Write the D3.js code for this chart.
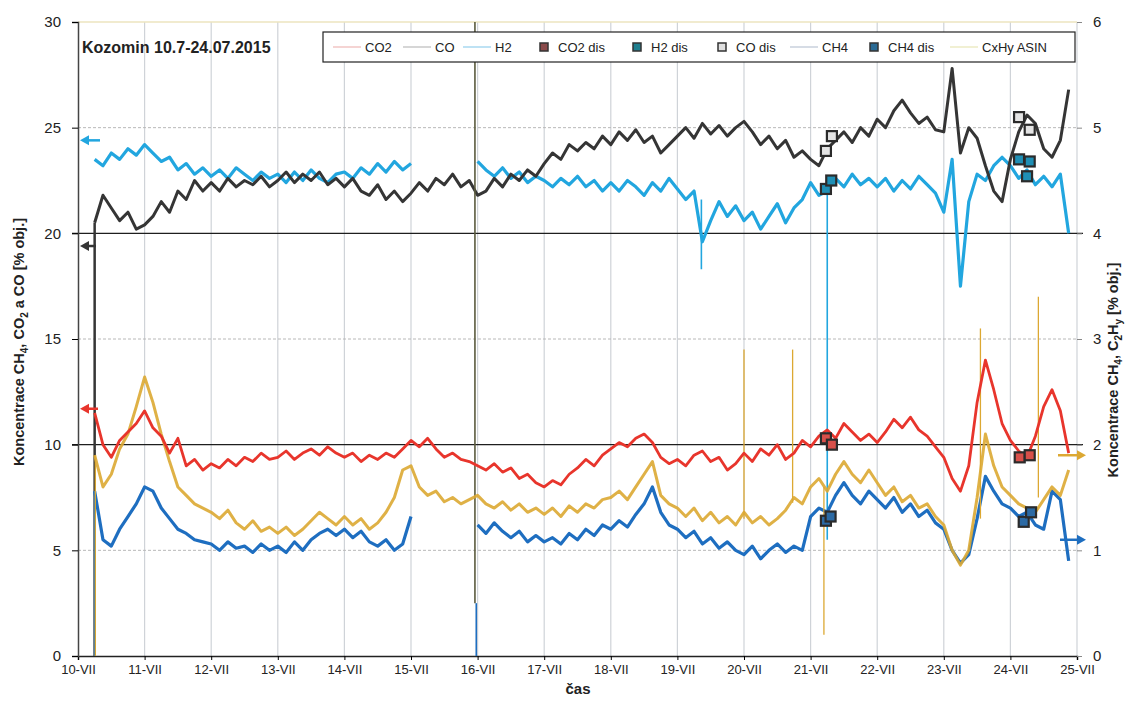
<!DOCTYPE html>
<html><head><meta charset="utf-8">
<script src="https://cdn.jsdelivr.net/npm/d3@7"></script>
<style>body{margin:0;background:#fff} svg{display:block}</style>
</head><body><svg id="c" width="1128" height="704"></svg>
<script>
// ---------- DATA ----------
const dayLabels = ["10-VII","11-VII","12-VII","13-VII","14-VII","15-VII","16-VII","17-VII","18-VII","19-VII","20-VII","21-VII","22-VII","23-VII","24-VII","25-VII"];
const leftTicks = [0,5,10,15,20,25,30];
const rightTicks = [0,1,2,3,4,5,6];
// sampling grid: days after 10-VII 00:00, every 3 hours from 10-VII 06:00
const sampleStart = 0.25, sampleStep = 0.125;

// CO2 [% obj.] left axis
const co2 = [11.5,10.0,9.4,10.2,10.6,11.0,
 11.6,10.8,10.4,9.6,10.3,9.0,9.3,8.8,
 9.1,8.9,9.3,9.0,9.4,9.2,9.6,9.3,
 9.4,9.7,9.3,9.6,9.8,9.5,9.9,9.6,
 9.4,9.6,9.2,9.5,9.3,9.6,9.4,9.8,
 10.2,9.9,10.3,9.8,9.4,9.6,9.3,9.2,
 9.0,8.8,9.1,8.7,8.9,8.4,8.6,8.2,
 8.0,8.3,8.1,8.6,8.9,9.3,9.0,9.5,
 9.8,10.1,9.9,10.3,10.5,10.1,9.4,9.1,
 9.3,9.0,9.5,9.7,9.2,9.4,8.8,9.1,
 9.6,9.2,9.8,9.5,10.0,9.3,9.6,10.2,
 9.9,10.4,10.7,10.3,11.0,10.6,10.2,10.5,
 10.1,10.6,11.2,10.8,11.3,10.7,10.4,9.9,
 9.4,8.4,7.8,9.0,12.0,14.0,12.6,11.0,
 10.2,9.7,9.4,10.4,11.8,12.6,11.6,9.6];
// CO [% obj.] left axis
const co = [20.5,21.8,21.2,20.6,21.0,20.2,
 20.4,20.8,21.5,21.0,22.0,21.6,22.5,22.0,
 22.4,22.0,22.6,22.2,22.5,22.3,22.7,22.2,
 22.5,22.9,22.4,22.8,22.5,22.9,22.3,22.6,
 22.2,22.6,22.0,21.8,22.3,21.6,22.0,21.5,
 21.9,22.4,22.0,22.6,22.3,22.8,22.2,22.5,
 21.8,22.0,22.6,22.2,22.8,22.5,23.0,22.7,
 23.3,23.8,23.5,24.2,23.9,24.3,24.0,24.6,
 24.2,24.8,24.4,24.9,24.3,24.6,23.8,24.2,
 24.6,25.0,24.5,25.2,24.7,25.1,24.6,25.0,
 25.3,24.8,24.2,24.6,24.0,24.4,23.6,23.9,
 23.5,23.2,24.0,24.4,24.8,24.3,25.0,24.6,
 25.4,25.0,25.8,26.3,25.7,25.2,25.5,24.9,
 24.8,27.8,23.8,25.0,24.5,23.2,22.0,21.5,
 23.5,24.8,25.6,25.2,24.0,23.6,24.4,26.8];
// H2 [% obj.] left axis
const h2 = [23.5,23.2,23.8,23.5,24.0,23.7,
 24.2,23.8,23.4,23.6,23.0,23.3,22.8,23.1,
 22.7,23.0,22.6,23.1,22.8,22.5,22.9,22.6,
 22.8,22.4,22.9,22.5,23.0,22.6,22.4,22.8,
 22.9,22.6,23.1,22.8,23.3,22.9,23.4,23.0,
 23.3,null,null,null,null,null,null,null,
 23.4,23.0,22.7,23.1,22.6,22.9,22.4,22.7,
 22.5,22.2,22.6,22.3,22.7,22.2,22.5,22.0,
 22.4,22.0,22.5,22.2,21.8,22.4,22.0,22.6,
 22.1,21.6,22.0,19.6,20.6,21.5,20.8,21.3,
 20.6,21.0,20.2,20.8,21.4,20.5,21.2,21.6,
 22.4,21.8,22.0,22.6,22.2,22.8,22.3,22.6,
 22.2,22.6,22.0,22.5,22.1,22.7,22.3,21.9,
 21.0,23.5,17.5,21.5,22.8,22.5,23.2,23.6,
 23.2,22.6,23.0,22.3,22.7,22.2,22.8,20.0];
// CH4 [% obj.] right axis
const ch4 = [1.56,1.10,1.04,1.20,1.32,1.44,
 1.60,1.56,1.40,1.30,1.20,1.16,1.10,1.08,
 1.06,1.00,1.08,1.02,1.04,0.98,1.06,1.00,
 1.04,0.98,1.08,1.00,1.10,1.16,1.20,1.14,
 1.20,1.12,1.18,1.08,1.04,1.10,1.00,1.06,
 1.32,null,null,null,null,null,null,null,
 1.24,1.16,1.26,1.18,1.12,1.18,1.08,1.14,
 1.08,1.12,1.06,1.16,1.10,1.20,1.14,1.24,
 1.20,1.28,1.22,1.34,1.44,1.60,1.36,1.24,
 1.20,1.12,1.18,1.06,1.12,1.02,1.08,1.00,
 0.96,1.04,0.92,1.00,1.06,0.98,1.04,1.00,
 1.32,1.40,1.36,1.52,1.64,1.52,1.44,1.56,
 1.48,1.40,1.50,1.36,1.44,1.32,1.38,1.26,
 1.20,1.00,0.88,0.96,1.30,1.70,1.56,1.44,
 1.40,1.32,1.36,1.24,1.20,1.56,1.48,0.90];
// CxHy ASIN [% obj.] right axis
const cxhy = [1.90,1.60,1.72,1.96,2.10,2.36,
 2.64,2.40,2.10,1.84,1.60,1.52,1.44,1.40,
 1.36,1.30,1.38,1.26,1.20,1.28,1.18,1.22,
 1.16,1.22,1.14,1.20,1.28,1.36,1.30,1.24,
 1.32,1.24,1.30,1.20,1.26,1.36,1.50,1.76,
 1.80,1.60,1.52,1.56,1.46,1.50,1.44,1.48,
 1.52,1.44,1.40,1.46,1.38,1.44,1.36,1.40,
 1.34,1.40,1.32,1.42,1.36,1.44,1.40,1.48,
 1.50,1.56,1.48,1.60,1.72,1.84,1.52,1.44,
 1.40,1.32,1.40,1.28,1.36,1.26,1.32,1.24,
 1.36,1.26,1.32,1.24,1.30,1.38,1.50,1.44,
 1.60,1.68,1.56,1.72,1.84,1.72,1.64,1.76,
 1.64,1.52,1.60,1.46,1.52,1.40,1.44,1.32,
 1.24,1.00,0.86,1.00,1.50,2.10,1.80,1.60,
 1.52,1.44,1.40,1.36,1.48,1.60,1.52,1.76];
// short excursions [day, from, to]
const coSpikes = [[0.25,0,20.5]];
const h2Spikes = [[11.25,22.0,5.5],[9.36,21.6,18.3]];
const ch4Spikes = [[0.25,0,1.56],[5.98,0,0.5]];
const cxhySpikes = [[0.26,0,1.9],[10.0,1.3,2.9],[10.73,1.45,2.9],[11.2,1.6,0.2],[13.55,1.3,3.1],[14.42,1.5,3.4]];
const calibSpike = [[5.96,0.5,6.0]];
// discrete analyses [day, value]
const co2Dis = [[11.23,10.3],[11.32,10.0],[14.14,9.4],[14.29,9.5]];
const h2Dis = [[11.23,22.1],[11.31,22.5],[14.13,23.5],[14.29,23.4],[14.25,22.7]];
const coDis = [[11.23,23.9],[11.32,24.6],[14.13,25.5],[14.29,24.9]];
const ch4Dis = [[11.23,1.28],[11.3,1.32],[14.2,1.27],[14.31,1.36]];

// ---------- CHART ----------
const svg = d3.select("#c");
const X0=78, X1=1077, Y0=656, Y1=22;
const x = d3.scaleLinear().domain([0,15]).range([X0,X1]);
const yL = d3.scaleLinear().domain([0,30]).range([Y0,Y1]);
const yR = d3.scaleLinear().domain([0,6]).range([Y0,Y1]);
const FONT = "'Liberation Sans', Arial, sans-serif";
const NARROW = "'Liberation Sans Narrow', 'Arial Narrow', 'Liberation Sans', sans-serif";

function series(vals){
  return vals.map((v,i)=>({t: sampleStart + sampleStep*i, v}));
}

// gridlines
const g = svg.append("g");
g.selectAll(".vg").data(d3.range(1,16)).join("line")
  .attr("x1",d=>x(d)).attr("x2",d=>x(d)).attr("y1",Y1).attr("y2",Y0)
  .attr("stroke","#cfd3d8").attr("stroke-width",1.2);
g.selectAll(".hg").data([5,15,25]).join("line")
  .attr("x1",X0).attr("x2",X1).attr("y1",d=>yL(d)).attr("y2",d=>yL(d))
  .attr("stroke","#b8b8b8").attr("stroke-width",1).attr("stroke-dasharray","3,2");
g.append("line").attr("x1",X0).attr("x2",X1).attr("y1",Y1).attr("y2",Y1)
  .attr("stroke","#ece4bf").attr("stroke-width",1.5);
g.selectAll(".hd").data([10,20]).join("line")
  .attr("x1",X0-6).attr("x2",X1+6).attr("y1",d=>yL(d)).attr("y2",d=>yL(d))
  .attr("stroke","#1e1e1e").attr("stroke-width",1.4);

// axes
const axB = svg.append("g").attr("transform",`translate(0,${Y0})`)
  .call(d3.axisBottom(x).tickValues(d3.range(0,16)).tickFormat(i=>dayLabels[i]).tickSize(4).tickPadding(5));
axB.select(".domain").attr("stroke","#222").attr("stroke-width",1.5);
axB.selectAll("text").attr("font-family",NARROW).attr("font-size",13).attr("fill","#222");
const axL = svg.append("g").attr("transform",`translate(${X0},0)`)
  .call(d3.axisLeft(yL).tickValues(leftTicks).tickSize(6).tickPadding(11));
axL.select(".domain").attr("stroke","#444").attr("stroke-width",1.5);
axL.selectAll("text").attr("font-family",FONT).attr("font-size",15).attr("fill","#222");
const axR = svg.append("g").attr("transform",`translate(${X1},0)`)
  .call(d3.axisRight(yR).tickValues(rightTicks).tickFormat(d3.format("d")).tickSize(5).tickPadding(11));
axR.select(".domain").attr("stroke","none");
axR.selectAll("line").attr("stroke","#888");
axR.selectAll("text").attr("font-family",FONT).attr("font-size",15).attr("fill","#222");

// lines
const lineL = d3.line().defined(d=>d.v!=null).x(d=>x(d.t)).y(d=>yL(d.v));
const lineR = d3.line().defined(d=>d.v!=null).x(d=>x(d.t)).y(d=>yR(d.v));
const C = {co2:"#e8352c", co:"#353535", h2:"#22a6df", ch4:"#1e6ec0", cxhy:"#dca832"};
const plot = svg.append("g").attr("fill","none").attr("stroke-linejoin","round");
function spikes(data, yS, color, w){
  plot.append("g").selectAll("line").data(data).join("line")
    .attr("x1",d=>x(d[0])).attr("x2",d=>x(d[0])).attr("y1",d=>yS(d[1])).attr("y2",d=>yS(d[2]))
    .attr("stroke",color).attr("stroke-width",w);
}
plot.append("path").attr("d",lineL(series(h2))).attr("stroke",C.h2).attr("stroke-width",3.2);
spikes(h2Spikes, yL, C.h2, 1.6);
plot.append("path").attr("d",lineL(series(co))).attr("stroke",C.co).attr("stroke-width",3);
spikes(coSpikes, yL, C.co, 2.5);
spikes(calibSpike, yR, "#5b5a3e", 1.6);
plot.append("path").attr("d",lineR(series(ch4))).attr("stroke",C.ch4).attr("stroke-width",3.2);
spikes(ch4Spikes, yR, C.ch4, 1.6);
plot.append("path").attr("d",lineR(series(cxhy))).attr("stroke",C.cxhy).attr("stroke-width",3).attr("stroke-opacity",0.9);
spikes(cxhySpikes, yR, C.cxhy, 1.3);
plot.append("path").attr("d",lineL(series(co2))).attr("stroke",C.co2).attr("stroke-width",2.8);

// discrete markers
function markers(data, yS, fill){
  svg.append("g").selectAll("rect").data(data).join("rect")
    .attr("x",d=>x(d[0])-5).attr("y",d=>yS(d[1])-5).attr("width",10).attr("height",10)
    .attr("fill",fill).attr("stroke","#2b2b2b").attr("stroke-width",2.2);
}
markers(coDis, yL, "#e4e4e4");
markers(h2Dis, yL, "#1f8fb5");
markers(co2Dis, yL, "#d8504a");
markers(ch4Dis, yR, "#2c6aa4");

// axis arrows
function arrow(y, xFrom, xTo, color){
  const dir = Math.sign(xTo-xFrom);
  svg.append("line").attr("x1",xFrom).attr("x2",xTo-dir*6).attr("y1",y).attr("y2",y)
    .attr("stroke",color).attr("stroke-width",2.5);
  svg.append("path").attr("d",`M${xTo},${y} L${xTo-dir*9},${y-5} L${xTo-dir*9},${y+5} Z`).attr("fill",color);
}
arrow(yL(24.4), 100, 80, C.h2);
arrow(yL(19.4), 96, 80, C.co);
arrow(yL(11.7), 98, 80, C.co2);
arrow(yR(1.9), 1058, 1086, C.cxhy);
arrow(yR(1.1), 1060, 1086, C.ch4);

// title
svg.append("text").attr("x",82).attr("y",53).attr("font-family",FONT).attr("font-weight","bold")
  .attr("font-size",16).attr("fill","#222").text("Kozomin 10.7-24.07.2015");

// legend
const lg = svg.append("g").attr("font-family",FONT).attr("font-size",13).attr("fill","#222");
lg.append("rect").attr("x",323).attr("y",32).attr("width",752).attr("height",30)
  .attr("fill","#fff").attr("stroke","#222").attr("stroke-width",1.2);
const legendItems = [
  {type:"line", label:"CO2", color:"#f2c6c4", x:333},
  {type:"line", label:"CO", color:"#c9c9c9", x:403},
  {type:"line", label:"H2", color:"#a9d8f0", x:463},
  {type:"rect", label:"CO2 dis", color:"#8a4a4a", x:540},
  {type:"rect", label:"H2 dis", color:"#1f7f8f", x:633},
  {type:"rect", label:"CO dis", color:"#e0e0e0", x:718},
  {type:"line", label:"CH4", color:"#c8d0dc", x:790},
  {type:"rect", label:"CH4 dis", color:"#2a6a94", x:870},
  {type:"line", label:"CxHy ASIN", color:"#ecebc4", x:950}
];
legendItems.forEach(it=>{
  if(it.type==="line"){
    lg.append("line").attr("x1",it.x).attr("x2",it.x+28).attr("y1",47).attr("y2",47)
      .attr("stroke",it.color).attr("stroke-width",1.5);
    lg.append("text").attr("x",it.x+32).attr("y",52).text(it.label);
  } else {
    lg.append("rect").attr("x",it.x).attr("y",43).attr("width",8).attr("height",8)
      .attr("fill",it.color).attr("stroke","#333").attr("stroke-width",1.5);
    lg.append("text").attr("x",it.x+18).attr("y",52).text(it.label);
  }
});

// axis titles
svg.append("text").attr("x",578).attr("y",694).attr("text-anchor","middle")
  .attr("font-family",FONT).attr("font-weight","bold").attr("font-size",15).attr("fill","#222").text("čas");
const tl = svg.append("text").attr("transform","translate(24,342) rotate(-90)").attr("text-anchor","middle")
  .attr("font-family",FONT).attr("font-weight","bold").attr("font-size",14.5).attr("fill","#222");
tl.append("tspan").text("Koncentrace CH");
tl.append("tspan").attr("dy",4).attr("font-size",10).text("4");
tl.append("tspan").attr("dy",-4).text(", CO");
tl.append("tspan").attr("dy",4).attr("font-size",10).text("2");
tl.append("tspan").attr("dy",-4).text(" a CO [% obj.]");
const tr = svg.append("text").attr("transform","translate(1118,370) rotate(-90)").attr("text-anchor","middle")
  .attr("font-family",FONT).attr("font-weight","bold").attr("font-size",14.5).attr("fill","#222");
tr.append("tspan").text("Koncentrace CH");
tr.append("tspan").attr("dy",4).attr("font-size",10).text("4");
tr.append("tspan").attr("dy",-4).text(", C");
tr.append("tspan").attr("dy",4).attr("font-size",10).text("2");
tr.append("tspan").attr("dy",-4).text("H");
tr.append("tspan").attr("dy",4).attr("font-size",10).text("y");
tr.append("tspan").attr("dy",-4).text(" [% obj.]");
</script></body></html>
